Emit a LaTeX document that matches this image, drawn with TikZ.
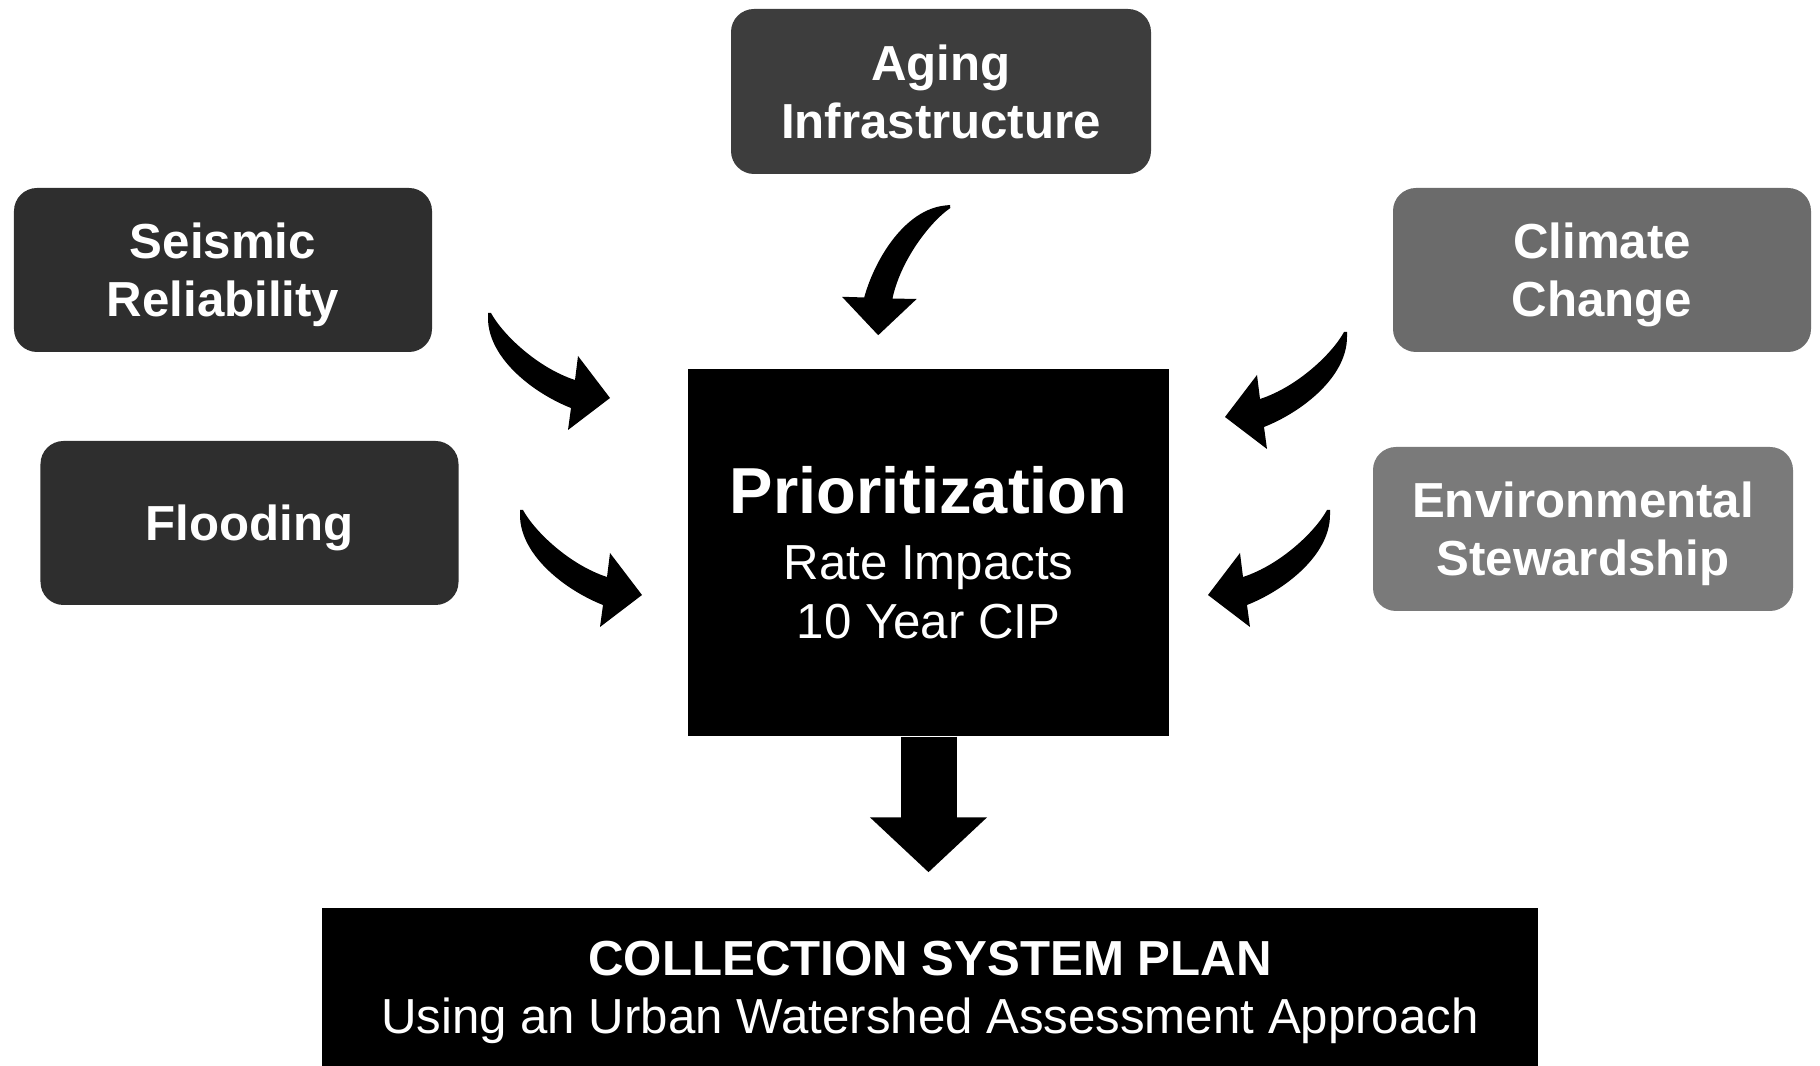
\documentclass[tikz,border=0pt]{standalone}
\usepackage{fontspec}
\setmainfont{Liberation Sans}
\usepackage{xcolor}
\usepackage{tikz}
\usetikzlibrary{arrows.meta,positioning,calc}

\definecolor{drv1}{gray}{0.18}
\definecolor{drv2}{gray}{0.24}
\definecolor{drv3}{gray}{0.42}
\definecolor{drv4}{gray}{0.48}

\tikzset{
    bend/.pic={\fill[black] (0,0) -- (0.03,0) .. controls (0.15,-0.22) and (0.50,-0.55) .. (0.87,-0.67)
        -- (0.90,-0.43) -- (1.22,-0.85) -- (0.80,-1.17) -- (0.83,-0.95)
        .. controls (0.45,-0.80) and (0,-0.45) .. (0,-0.05) -- cycle;}
}

\begin{document}
\begin{tikzpicture}[
    driver/.style={rectangle,rounded corners=0.23cm,text=white,align=center,
                   minimum width=4.18cm,minimum height=1.64cm,text depth=0pt,
                   font=\fontsize{14}{16.5}\selectfont\bfseries},
    core/.style={rectangle,fill=black,text=white,align=center,
                 font=\fontsize{14}{16.8}\selectfont},
    bigarr/.style={line width=0.56cm,-{Triangle[length=0.55cm,width=1.14cm]}}
]
\useasboundingbox (0,0) rectangle (18.2,-10.66);

% drivers
\node[driver,fill=drv2,minimum width=4.2cm,minimum height=1.65cm] (aging) at (9.41,-0.915) {Aging\\Infrastructure};
\node[driver,fill=drv1] (seismic) at (2.23,-2.70) {Seismic\\Reliability};
\node[driver,fill=drv1] (flood) at (2.495,-5.23) {Flooding};
\node[driver,fill=drv3] (climate) at (16.02,-2.70) {Climate\\Change};
\node[driver,fill=drv4,minimum width=4.2cm] (env) at (15.83,-5.29) {Environmental\\Stewardship};

% center
\node[core,minimum width=4.81cm,minimum height=3.67cm] (prior) at (9.285,-5.525)
    {{\fontsize{18.5}{18.8}\selectfont\bfseries Prioritization}\\[2pt]Rate Impacts\\10 Year CIP};
\node[core,minimum width=12.16cm,minimum height=1.58cm,text depth=0pt,font=\fontsize{14}{16.5}\selectfont] (plan) at (9.30,-9.87)
    {\textbf{COLLECTION SYSTEM PLAN}\\Using an Urban Watershed Assessment Approach};

% bent arrows
\coordinate (agingTail) at (9.50,-2.05);
\coordinate (seismicTail) at (4.88,-3.13);
\coordinate (floodTail) at (5.20,-5.10);
\coordinate (climateTail) at (13.47,-3.32);
\coordinate (envTail) at (13.30,-5.10);
\pic[rotate=-84] at (agingTail) {bend};
\pic at (seismicTail) {bend};
\pic at (floodTail) {bend};
\pic[xscale=-1] at (climateTail) {bend};
\pic[xscale=-1] at (envTail) {bend};

\draw[bigarr,shorten >=0.35cm] (prior.south) -- (prior.south |- plan.north);
\end{tikzpicture}
\end{document}
